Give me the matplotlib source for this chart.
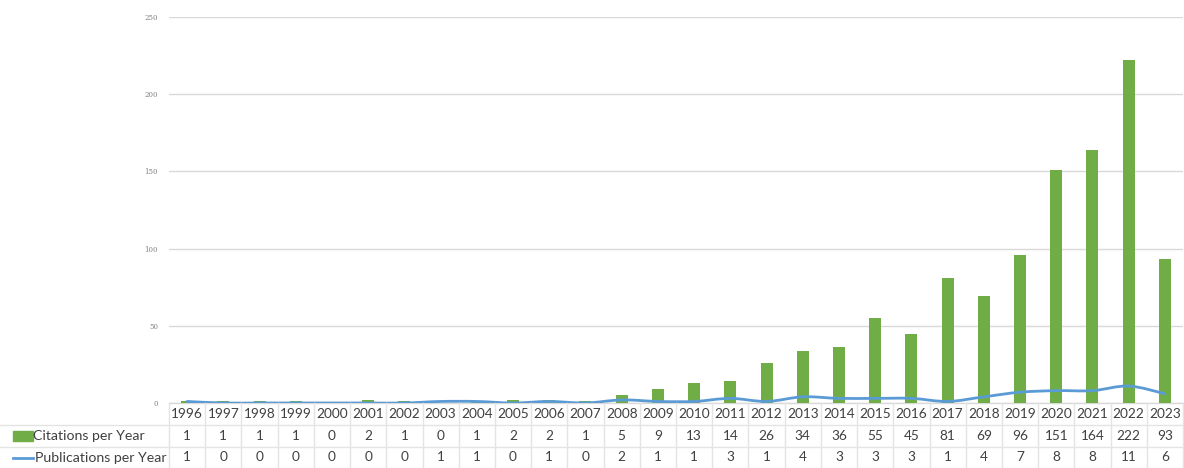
import numpy as np
import matplotlib
matplotlib.use("Agg")
import matplotlib.pyplot as plt
from matplotlib.path import Path
from matplotlib.patches import PathPatch, Rectangle
from matplotlib.lines import Line2D

years = [str(y) for y in range(1996, 2024)]
citations = [1, 1, 1, 1, 0, 2, 1, 0, 1, 2, 2, 1, 5, 9, 13, 14, 26, 34, 36, 55,
             45, 81, 69, 96, 151, 164, 222, 93]
publications = [1, 0, 0, 0, 0, 0, 0, 1, 1, 0, 1, 0, 2, 1, 1, 3, 1, 4, 3, 3,
                 3, 1, 4, 7, 8, 8, 11, 6]
series_names = ["Citations per Year", "Publications per Year"]
y_ticks = [0, 50, 100, 150, 200, 250]

GREEN = "#70AD47"
BLUE = "#5B9BD5"
GRID = "#D9D9D9"
RULE = "#E4E4E4"
TEXT = "#404040"
FONT = ["Lato", "DejaVu Sans"]
FS_CELL = 9.8
FS_HEAD = 10.2

W, H = 1184, 468
fig = plt.figure(figsize=(W / 100, H / 100), dpi=100)

x0, x1 = 169 / W, 1183 / W
y_axis0 = (H - 403) / H
y_axis1 = (H - 17) / H

ax = fig.add_axes([x0, y_axis0, x1 - x0, y_axis1 - y_axis0])
tab = fig.add_axes([x0, 0, x1 - x0, y_axis0], sharex=ax)

n = len(years)
x = np.arange(n)

# Bars
ax.bar(x, citations, width=0.33, color=GREEN, zorder=3)


# Smoothed line (Catmull-Rom through the yearly values)
def smooth_path(xs, ys, tension=1 / 6):
    pts = np.column_stack([xs, ys]).astype(float)
    verts = [pts[0]]
    codes = [Path.MOVETO]
    for i in range(len(pts) - 1):
        p0 = pts[i - 1] if i > 0 else pts[i]
        p1 = pts[i]
        p2 = pts[i + 1]
        p3 = pts[i + 2] if i + 2 < len(pts) else pts[i + 1]
        c1 = p1 + (p2 - p0) * tension
        c2 = p2 - (p3 - p1) * tension
        verts += [c1, c2, p2]
        codes += [Path.CURVE4] * 3
    return Path(verts, codes)


ax.add_patch(PathPatch(smooth_path(x, publications), facecolor="none",
                       edgecolor=BLUE, lw=2.0, zorder=4, capstyle="round"))

ax.set_xlim(-0.5, n - 0.5)
ax.set_ylim(0, 250)
ax.set_yticks(y_ticks)
ax.set_yticklabels([str(v) for v in y_ticks], fontfamily="DejaVu Serif",
                   fontsize=5, color="#808080")
ax.tick_params(axis="y", length=0, pad=8)
ax.tick_params(axis="x", length=0, labelbottom=False)
ax.grid(axis="y", color=GRID, lw=1, zorder=0)
for s in ["left", "right", "top"]:
    ax.spines[s].set_visible(False)
ax.spines["bottom"].set_color(GRID)
ax.spines["bottom"].set_linewidth(1)

# Data table under the plot
tab.set_ylim(0, 3)
tab.axis("off")
row_y = [2.5, 1.5, 0.5]
rows = [years, [str(v) for v in citations], [str(v) for v in publications]]
for yy, vals in zip(row_y, rows):
    for xi, v in zip(x, vals):
        tab.text(xi, yy, v, ha="center", va="center", fontsize=FS_CELL,
                 color=TEXT, family=FONT)

# Column rules
for xi in np.arange(-0.5, n, 1.0):
    tab.plot([xi, xi], [0, 3], color=RULE, lw=1, clip_on=False)
# Row rules spanning the header column and the table
for yy_px in (425, 447):
    fig.add_artist(Line2D([0, x1], [(H - yy_px) / H] * 2, color=RULE, lw=1))

# Row headers with legend keys
fig.add_artist(Rectangle((13 / W, (H - 441) / H), 20 / W, 10 / H,
                         color=GREEN, transform=fig.transFigure))
fig.text(33 / W, (H - 436) / H, series_names[0], ha="left", va="center",
         fontsize=FS_HEAD, color=TEXT, family=FONT)
fig.add_artist(Line2D([13 / W, 33 / W], [(H - 458) / H] * 2, color=BLUE, lw=2))
fig.text(35 / W, (H - 458) / H, series_names[1], ha="left", va="center",
         fontsize=FS_HEAD, color=TEXT, family=FONT)

fig.savefig("out.png", dpi=100, facecolor="white")
